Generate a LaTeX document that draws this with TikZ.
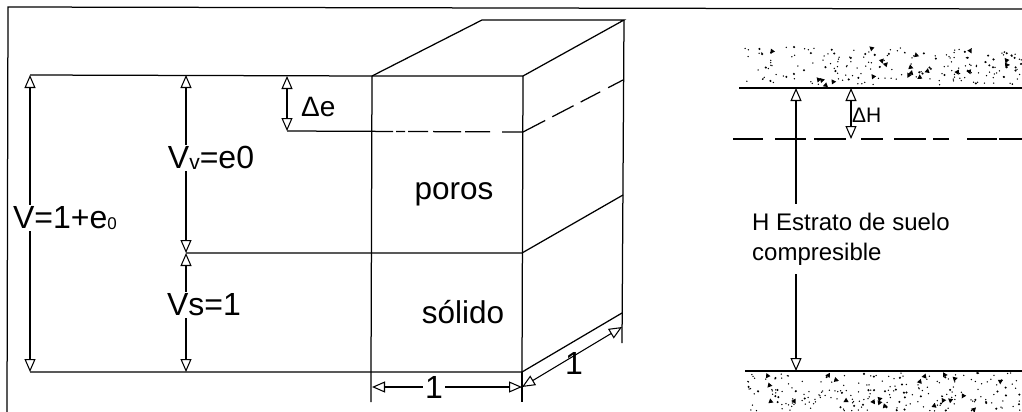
\documentclass[tikz,border=0pt]{standalone}
\usepackage{fontspec}
\setmainfont{Liberation Sans}
\usetikzlibrary{arrows.meta}
\tikzset{
  ln/.style={line width=1.25pt,black},
  dim/.style={line width=1.05pt,black,{Triangle[open,length=13pt,width=11pt,fill=white,line width=1.05pt]}-{Triangle[open,length=13pt,width=11pt,fill=white,line width=1.05pt]}},
  dashone/.style={line width=1.25pt,dash pattern=on 106pt off 3pt on 9pt off 3pt on 20pt off 5pt on 28pt off 4pt on 25pt off 12pt on 46pt off 8pt on 24pt off 8pt on 22pt off 9pt on 20pt off 40pt},
  dashtwo/.style={line width=1.1pt,dash pattern=on 30pt off 12pt on 31pt off 8pt on 32pt off 15pt on 22pt off 11pt on 32pt off 7pt on 16pt off 18pt on 30pt off 2pt on 30pt},
  biglab/.style={font=\fontsize{32}{34}\selectfont,fill=white,inner sep=1.5pt},
  midlab/.style={font=\fontsize{31.5}{34}\selectfont,inner sep=0pt},
  smalllab/.style={font=\fontsize{24}{30}\selectfont,align=left,fill=white,inner sep=1pt,minimum height=70pt}
}
\newcommand{\bandofdots}[4]{%
  \foreach \i in {1,...,#4}{%
    \pgfmathsetmacro{\dx}{#1+rnd*(#2-#1)}%
    \pgfmathsetmacro{\dy}{#3+rnd*38}%
    \pgfmathsetmacro{\dk}{rnd}%
    \pgfmathsetmacro{\da}{rnd*360}%
    \pgfmathsetmacro{\dr}{\dk<0.72 ? 0.75 : 1.15}%
    \fill[black] (\dx,\dy) circle[radius=\dr];%
    \pgfmathparse{\dk>0.9 ? 1 : 0}\ifnum\pgfmathresult=1
      \fill[black,shift={(\dx,\dy)},rotate=\da] (-2.6,1.6) -- (2.6,1.9) -- (0.3,-2.6) -- cycle;\fi
  }%
}
\begin{document}
\begin{tikzpicture}[x=1pt,y=-1pt]
\useasboundingbox (0,0) rectangle (1022,412);
\fill[white] (0,0) rectangle (1022,412);
% named points
\coordinate (fl) at (7,412); \coordinate (ftl) at (8,7); \coordinate (ftr) at (1022,9);
\coordinate (A) at (372,76); \coordinate (B) at (523,76); \coordinate (C) at (482,20); \coordinate (D) at (624,20);
\coordinate (E) at (522,372); \coordinate (F) at (371,372);
\coordinate (Dm) at (622,343);
\coordinate (Ll) at (30,75); \coordinate (Lb) at (30,372);
\coordinate (Vt) at (186,75); \coordinate (Vm) at (186,253); \coordinate (Vb) at (186,372);
\coordinate (Et) at (287,76); \coordinate (Eb) at (287,131);
\coordinate (Dmid) at (523,132); \coordinate (Dback) at (623,80);
\coordinate (Mid) at (522,253); \coordinate (Midb) at (623,195); \coordinate (Botb) at (622,313);
\coordinate (Fx) at (371,402); \coordinate (Ex) at (522,402);
\coordinate (d1) at (372,387); \coordinate (d2) at (522,387); \coordinate (d3) at (622,327);
\coordinate (Hl) at (739,88); \coordinate (Hr) at (1022,88);
\coordinate (Dl) at (733,139); \coordinate (Dr) at (1022,139);
\coordinate (Bl) at (745,371); \coordinate (Br) at (1022,371);
\coordinate (H1) at (796,88); \coordinate (H2) at (796,371);
\coordinate (dH1) at (851,88); \coordinate (dH2) at (851,139);
% frame
\draw[ln] (fl) -- (ftl) -- (ftr);
% block
\draw[ln] (Ll) -- (A) -- (B) -- (E) -- (Lb);
\draw[ln] (A) -- (F) -- (Fx);
\draw[ln] (A) -- (C) -- (D) -- (B);
\draw[ln] (D) -- (Dm);
\draw[ln] (E) -- (Ex);
\draw[ln] (Vm) -- (Mid) -- (Midb);
\draw[ln] (E) -- (Botb);
\draw[dashone] (Eb) -- (Dmid) -- (Dback);
% dimensions
\draw[dim] (Ll) -- (Lb);
\draw[dim] (Vt) -- (Vm);
\draw[dim] (Vm) -- (Vb);
\draw[dim] (Et) -- (Eb);
\draw[dim] (d1) -- (d2);
\draw[dim] (d2) -- (d3);
% labels
\node[biglab] (lv) at (65,218) {V=1+e\raisebox{-1pt}{\fontsize{17}{17}\selectfont 0}};
\node[biglab] (lvv) at (211,158) {V\raisebox{-1pt}{\fontsize{21}{21}\selectfont v}=e0};
\node[biglab] (lvs) at (204,305) {Vs=1};
\node[midlab,anchor=west,font=\fontsize{28}{30}\selectfont] (lde) at (301,107) {Δe};
\node[midlab] (lp) at (454,194) {poros};
\node[midlab] (ls) at (463,312) {sólido};
\node[biglab,inner sep=2pt] (l1) at (434,387) {1};
\node[biglab,inner sep=2pt,fill=none] (l1b) at (574,363) {1};
% right figure
\pgfmathsetseed{4711}
\bandofdots{744}{1022}{47}{210}
\bandofdots{746}{1022}{373}{230}
\draw[ln] (Hl) -- (Hr);
\draw[ln] (Bl) -- (Br);
\draw[dashtwo] (Dl) -- (Dr);
\draw[dim] (H1) -- (H2);
\draw[dim] (dH1) -- (dH2);
\node[midlab,anchor=west,font=\fontsize{21}{23}\selectfont] (ldh) at (852,115) {ΔH};
\node[smalllab,anchor=west] (lh) at (751,239) {H Estrato de suelo\\compresible};
\end{tikzpicture}
\end{document}
